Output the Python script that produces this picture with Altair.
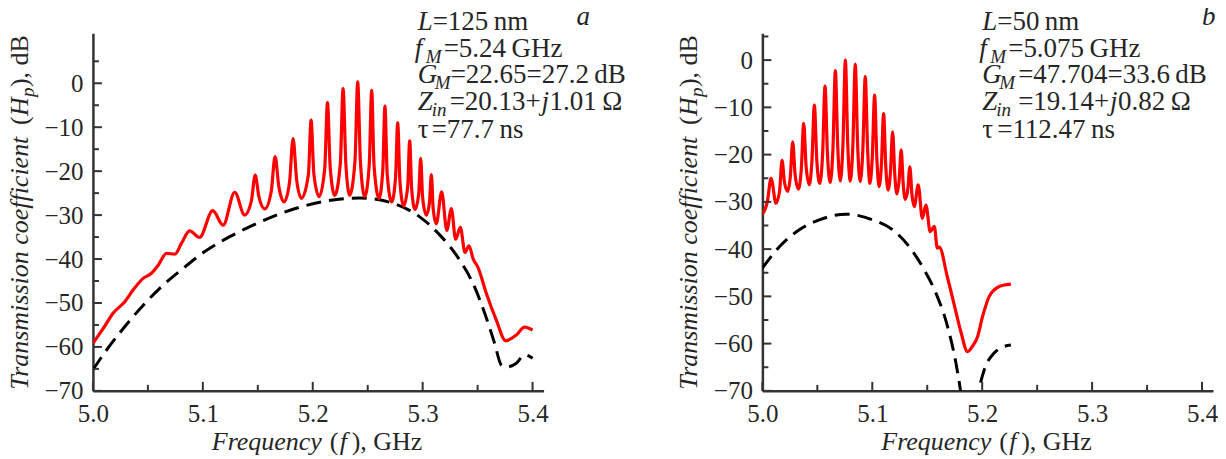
import altair as alt
import pandas as pd

FONT = "Liberation Serif"
TXC = "#262626"
AXC = "#333333"

# ---------------- panel a: L = 125 nm ----------------
a_red_f = [5.000, 5.0094, 5.0185, 5.029, 5.0367, 5.0457, 5.053, 5.0594, 5.067, 5.0745,
           5.0806, 5.088, 5.097, 5.109, 5.1185, 5.129, 5.138, 5.1441, 5.1476, 5.1511,
           5.1564, 5.1622, 5.1657, 5.1692, 5.1739, 5.1788, 5.1821, 5.1854, 5.1897, 5.196,
           5.1985, 5.201, 5.2058, 5.2109, 5.2134, 5.2159, 5.2200, 5.2251, 5.2276, 5.2301,
           5.2336, 5.2384, 5.2409, 5.2434, 5.2473, 5.2514, 5.2536, 5.2558, 5.2603, 5.2637,
           5.2657, 5.2677, 5.2718, 5.2753, 5.2773, 5.2793, 5.2827, 5.2864, 5.2882, 5.2900,
           5.2930, 5.2964, 5.2982, 5.3000, 5.3034, 5.3062, 5.3079, 5.3096, 5.3124, 5.3173,
           5.3220, 5.3261, 5.3300, 5.3343, 5.3385, 5.3421, 5.3460, 5.3505, 5.3579, 5.3670,
           5.3755, 5.3852, 5.3927, 5.4000]
a_red_db = [-59.2, -55.8, -52.3, -49.7, -47.0, -44.4, -43.3, -41.4, -38.7, -38.9,
            -36.4, -33.6, -35.1, -29.0, -32.3, -24.8, -30.0, -26.9, -20.9, -25.9,
            -28.6, -24.7, -16.7, -23.6, -27.0, -22.7, -12.6, -22.1, -26.2, -20.9,
            -8.4, -20.6, -25.8, -19.4, -4.4, -19.2, -25.5, -18.2, -1.2, -18.2,
            -25.5, -17.8, 0.3, -18.0, -25.8, -18.5, -1.6, -18.8, -26.2, -19.9,
            -5.2, -20.5, -27.0, -21.6, -9.0, -22.2, -27.9, -23.5, -13.1, -24.0,
            -28.7, -25.2, -17.1, -26.1, -30.0, -27.2, -20.8, -28.6, -32.0, -24.7,
            -33.5, -28.5, -35.5, -32.8, -38.5, -37.0, -40.0, -42.0, -47.8, -53.9,
            -58.6, -57.3, -55.5, -56.2]
a_dash_f = [5.000, 5.0124, 5.0276, 5.0458, 5.0624, 5.0821, 5.1018, 5.1245, 5.1458, 5.167,
            5.1912, 5.215, 5.2427, 5.273, 5.2973, 5.3155, 5.3336, 5.3457, 5.3564, 5.3655,
            5.3715, 5.376, 5.3852, 5.3927, 5.400]
a_dash_db = [-65.2, -60.7, -55.8, -50.5, -46.3, -42.1, -38.3, -34.9, -32.3, -30.0,
             -28.0, -26.7, -26.1, -27.3, -30.4, -34.5, -40.2, -45.5, -52.3, -59.2,
             -64.1, -64.6, -63.7, -61.8, -62.6]

# ---------------- panel b: L = 50 nm ----------------
b_red_f = [5.0000, 5.0045, 5.0079, 5.0124, 5.0157, 5.0179, 5.0201, 5.0230, 5.0254, 5.0276,
           5.0298, 5.0328, 5.0354, 5.0376, 5.0398, 5.0427, 5.0451, 5.0473, 5.0495, 5.0522,
           5.0548, 5.0570, 5.0592, 5.0617, 5.0642, 5.0664, 5.0686, 5.0709, 5.0733, 5.0755,
           5.0777, 5.0800, 5.0823, 5.0845, 5.0867, 5.0890, 5.0914, 5.0936, 5.0958, 5.0979,
           5.1000, 5.1021, 5.1042, 5.1062, 5.1083, 5.1103, 5.1123, 5.1144, 5.1165, 5.1185,
           5.1205, 5.1224, 5.1244, 5.1263, 5.1282, 5.1300, 5.1323, 5.1342, 5.1361, 5.1382,
           5.1418, 5.1455, 5.1488, 5.1527, 5.1564, 5.1592, 5.1610, 5.1682, 5.1757, 5.1806,
           5.1867, 5.1910, 5.1957, 5.2003, 5.2064, 5.2110, 5.2155, 5.2200, 5.2261]
b_red_db = [-32.6, -30.0, -25.0, -30.3, -27.6, -21.2, -25.8, -27.8, -24.7, -17.3,
            -24.3, -27.3, -23.1, -13.4, -22.5, -26.4, -21.3, -9.5, -21.1, -26.1,
            -19.9, -5.5, -19.8, -25.9, -18.8, -2.2, -18.6, -25.6, -17.9, 0.0,
            -17.9, -25.6, -18.2, -0.9, -18.3, -25.7, -19.0, -3.5, -19.3, -26.1,
            -20.5, -7.4, -21.0, -26.8, -22.2, -11.3, -22.6, -27.5, -23.8, -15.2,
            -24.4, -28.3, -25.5, -19.0, -26.4, -29.5, -27.4, -22.6, -28.5, -31.0,
            -26.4, -33.5, -30.7, -36.3, -35.2, -39.8, -39.6, -45.8, -52.9, -57.5,
            -61.7, -60.6, -58.6, -54.3, -50.0, -48.6, -47.9, -47.6, -47.4]
b_dash_f = [5.0000, 5.0155, 5.0336, 5.0518, 5.0761, 5.1003, 5.1185, 5.1336, 5.1473, 5.1579,
            5.1685, 5.1761, 5.1800, 5.1840, 5.1880, 5.1930, 5.1965, 5.2018, 5.2109, 5.2180,
            5.2261]
b_dash_db = [-44.0, -39.5, -35.9, -33.8, -32.6, -33.8, -35.9, -39.5, -44.4, -49.3,
             -56.4, -64.1, -69.5, -76.0, -80.0, -76.0, -70.5, -65.6, -62.0, -60.8,
             -60.3]

# ---------------- axes ----------------
x_major = [5.0, 5.1, 5.2, 5.3, 5.4]
x_minor = [5.05, 5.15, 5.25, 5.35]
y_major = [-70, -60, -50, -40, -30, -20, -10, 0]
y_minor = [-65, -55, -45, -35, -25, -15, -5, 5]

# ---------------- texts ----------------
TS = "\u2009"
a_notes = [("L", 325, -3, 27, True), ("=125" + TS + "nm", 340, -3, 27, False),
           ("a", 484, -8, 27, True),
           ("f", 322, 24, 27, True), ("M", 333, 30, 19, True), ("=5.24" + TS + "GHz", 351, 24, 27, False),
           ("G", 325, 50, 27, True), ("M", 342, 56, 19, True), ("=22.65=27.2" + TS + "dB", 358, 50, 27, False),
           ("Z", 325, 77, 27, True), ("in", 339, 83, 19, True), ("=20.13+", 357, 77, 27, False),
           ("j", 449, 77, 27, True), ("1.01" + TS + "\u03a9", 457, 77, 27, False),
           ("\u03c4", 325, 105, 27, False), ("=77.7" + TS + "ns", 339, 105, 27, False)]
b_notes = [("L", 220, -3, 27, True), ("=50" + TS + "nm", 235, -3, 27, False),
           ("b", 440, -8, 27, True),
           ("f", 217, 24, 27, True), ("M", 228, 30, 19, True), ("=5.075" + TS + "GHz", 246, 24, 27, False),
           ("G", 220, 50, 27, True), ("M", 237, 56, 19, True), ("=47.704=33.6" + TS + "dB", 256, 50, 27, False),
           ("Z", 220, 77, 27, True), ("in", 234, 83, 19, True), ("=19.14+", 256, 77, 27, False),
           ("j", 348, 77, 27, True), ("0.82" + TS + "\u03a9", 356, 77, 27, False),
           ("\u03c4", 220, 105, 27, False), ("=112.47" + TS + "ns", 235, 105, 27, False)]
x_title = [("Frequency", 119, 417, 26, True), ("(", 237, 417, 26, False),
           ("f", 247, 417, 26, True), ("), GHz", 259, 417, 26, False)]
y_title = [("Transmission coefficient", -65, 357, 26, True), ("(", -65, 92, 26, False),
           ("H", -65, 83, 26, True), ("p", -59, 64, 19, True), ("), dB", -65, 54, 26, False)]

W, H = 451, 358
XDOM = [5.0, 5.41]


def txt(s, x, y, size, italic, angle=0):
    return alt.Chart(alt.Data(values=[{}])).mark_text(
        text=s, align="left", baseline="alphabetic", font=FONT, fontSize=size,
        fontStyle="italic" if italic else "normal", color=TXC, angle=angle
    ).encode(x=alt.value(x), y=alt.value(y))


def panel(red_f, red_db, dash_f, dash_db, ytop, notes, pin=False):
    xs = alt.Scale(domain=XDOM, nice=False, zero=False)
    ys = alt.Scale(domain=[-70, ytop], nice=False, zero=False)
    xaxis = alt.Axis(values=x_major, format=".1f", ticks=False, tickSize=0, grid=False,
                     domainColor=AXC, domainWidth=2.5, labelFont=FONT, labelFontSize=25,
                     labelColor=TXC, labelPadding=11, labelFlush=False, labelOverlap=False,
                     title=None)
    yaxis = alt.Axis(values=y_major, ticks=False, tickSize=0, grid=False,
                     domainColor=AXC, domainWidth=2.5, labelFont=FONT, labelFontSize=25,
                     labelColor=TXC, labelPadding=10, labelOverlap=False,
                     labelExpr="replace(datum.label, '-', '\u2212')", title=None)
    X = lambda fld: alt.X(fld, scale=xs, axis=xaxis)
    Y = lambda fld: alt.Y(fld, scale=ys, axis=yaxis)
    dash = alt.Chart(pd.DataFrame({"f": dash_f, "db": dash_db})).mark_line(
        color="black", strokeWidth=3, strokeDash=[15, 8], interpolate="monotone", clip=True
    ).encode(x=X("f:Q"), y=Y("db:Q"))
    red = alt.Chart(pd.DataFrame({"f": red_f, "db": red_db})).mark_line(
        color="#ff0000", strokeWidth=3.2, interpolate="monotone", clip=True
    ).encode(x=X("f:Q"), y=Y("db:Q"))
    ytm = alt.Chart(pd.DataFrame({"db": y_major})).mark_rule(color=AXC, strokeWidth=2).encode(
        y=Y("db:Q"), x=alt.value(0), x2=alt.value(9))
    ytn = alt.Chart(pd.DataFrame({"db": y_minor})).mark_rule(color=AXC, strokeWidth=2).encode(
        y=Y("db:Q"), x=alt.value(0), x2=alt.value(6))
    xtm = alt.Chart(pd.DataFrame({"f": x_major})).mark_rule(color=AXC, strokeWidth=2).encode(
        x=X("f:Q"), y=alt.value(H), y2=alt.value(H - 9))
    xtn = alt.Chart(pd.DataFrame({"f": x_minor})).mark_rule(color=AXC, strokeWidth=2).encode(
        x=X("f:Q"), y=alt.value(H), y2=alt.value(H - 6))
    layers = [dash, red, ytm, ytn, xtm, xtn]
    for s, x, y, size, it in notes + x_title:
        layers.append(txt(s, x, y, size, it))
    for s, x, y, size, it in y_title:
        layers.append(txt(s, x, y, size, it, angle=270))
    if pin:
        layers.append(alt.Chart(alt.Data(values=[{}])).mark_rule(
            strokeOpacity=0, strokeWidth=1, color="white").encode(
            x=alt.value(-99.5), x2=alt.value(-99.5), y=alt.value(-39.5), y2=alt.value(-39.5)))
    return alt.layer(*layers).properties(width=W, height=H)


left = panel(a_red_f, a_red_db, a_dash_f, a_dash_db, 11.4, a_notes, pin=True)
right = panel(b_red_f, b_red_db, b_dash_f, b_dash_db, 5.7, b_notes)

chart = alt.hconcat(left, right, spacing=219, bounds="flush").properties(
    padding={"left": -15, "top": -15, "right": 0, "bottom": 0},
    background="white",
).configure_view(stroke=None)

chart.save("out.html", embed_options={"renderer": "svg", "actions": False})
